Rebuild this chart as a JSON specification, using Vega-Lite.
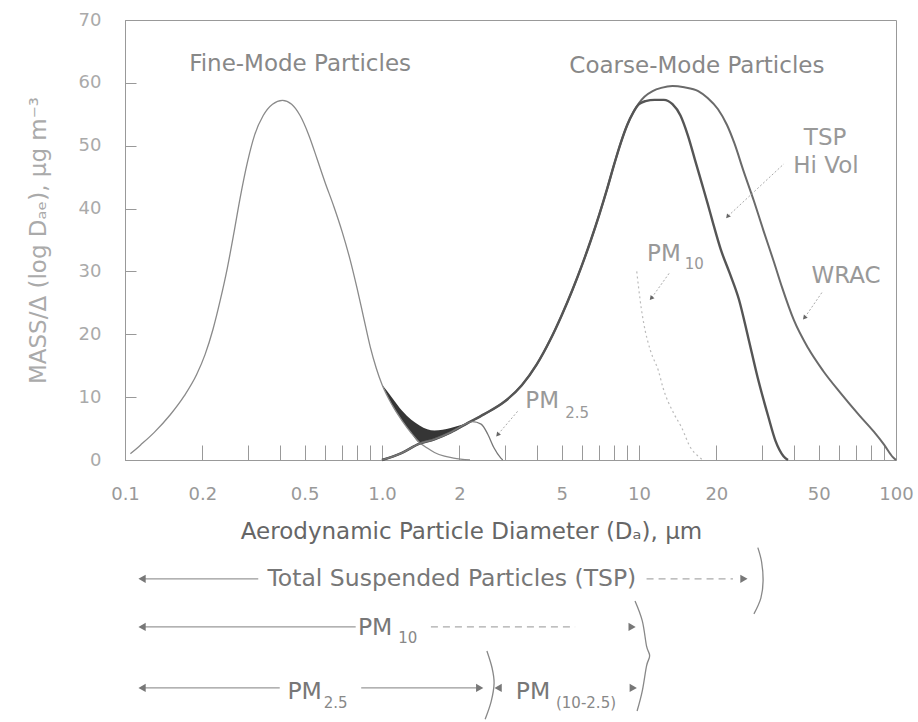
{
  "$schema": "https://vega.github.io/schema/vega-lite/v6.json",
  "background": "white",
  "padding": {"left": 26, "top": 10, "right": 0, "bottom": 0},
  "bounds": "flush",
  "spacing": 90,
  "config": {"view": {"stroke": null}, "font": "DejaVu Sans", "axis": {"grid": false}},
  "datasets": {
    "fine": [
      {"x": 0.105, "y": 1.0}, {"x": 0.115, "y": 2.4}, {"x": 0.13, "y": 4.4}, {"x": 0.15, "y": 7.2},
      {"x": 0.17, "y": 10.2}, {"x": 0.19, "y": 13.6}, {"x": 0.205, "y": 16.8}, {"x": 0.22, "y": 20.8},
      {"x": 0.235, "y": 25.5}, {"x": 0.25, "y": 30.5}, {"x": 0.265, "y": 36}, {"x": 0.28, "y": 41.5},
      {"x": 0.3, "y": 47.5}, {"x": 0.32, "y": 51.8}, {"x": 0.345, "y": 54.8}, {"x": 0.375, "y": 56.6},
      {"x": 0.41, "y": 57.2}, {"x": 0.445, "y": 56.6}, {"x": 0.48, "y": 54.8}, {"x": 0.52, "y": 51.6},
      {"x": 0.56, "y": 47.8}, {"x": 0.6, "y": 44.2}, {"x": 0.65, "y": 40.3}, {"x": 0.7, "y": 36.3},
      {"x": 0.75, "y": 32.0}, {"x": 0.8, "y": 27.3}, {"x": 0.85, "y": 22.5}, {"x": 0.9, "y": 18.0},
      {"x": 0.95, "y": 14.6}, {"x": 1.0, "y": 12.0}, {"x": 1.1, "y": 8.6}, {"x": 1.2, "y": 6.2},
      {"x": 1.3, "y": 4.3}, {"x": 1.4, "y": 2.8}, {"x": 1.5, "y": 1.9}, {"x": 1.6, "y": 1.2},
      {"x": 1.75, "y": 0.6}, {"x": 1.9, "y": 0.3}, {"x": 2.2, "y": 0}
    ],
    "coarse": [
      {"x": 1.0, "y": 0}, {"x": 1.19, "y": 1.1}, {"x": 1.4, "y": 2.6}, {"x": 1.6, "y": 3.3},
      {"x": 1.85, "y": 4.4}, {"x": 2.16, "y": 5.9}, {"x": 2.5, "y": 7.3}, {"x": 3.0, "y": 9.3},
      {"x": 3.5, "y": 11.9}, {"x": 4.0, "y": 15.2}, {"x": 4.5, "y": 19.0}, {"x": 5.0, "y": 23.0},
      {"x": 5.5, "y": 27.0}, {"x": 6.0, "y": 31.0}, {"x": 6.5, "y": 35.0}, {"x": 7.0, "y": 39.0},
      {"x": 7.5, "y": 43.0}, {"x": 8.0, "y": 47.0}, {"x": 8.5, "y": 50.5}, {"x": 9.0, "y": 53.3},
      {"x": 9.5, "y": 55.3}, {"x": 10.0, "y": 56.8}, {"x": 10.5, "y": 57.8}, {"x": 11.3, "y": 58.7},
      {"x": 12.2, "y": 59.2}, {"x": 13.5, "y": 59.5}, {"x": 15.0, "y": 59.3}, {"x": 17.0, "y": 58.7},
      {"x": 18.5, "y": 57.6}, {"x": 20.3, "y": 55.8}, {"x": 22.0, "y": 53.3}, {"x": 23.5, "y": 50.4},
      {"x": 25.5, "y": 46}, {"x": 28.0, "y": 41.2}, {"x": 30.5, "y": 36.5}, {"x": 33.5, "y": 31.5},
      {"x": 36, "y": 27.5}, {"x": 40.1, "y": 22.2}, {"x": 45.5, "y": 17.8}, {"x": 52, "y": 14.2},
      {"x": 61, "y": 10.6}, {"x": 72, "y": 7.1}, {"x": 82, "y": 4.5}, {"x": 90, "y": 2.4},
      {"x": 97, "y": 0.5}, {"x": 100, "y": 0}
    ],
    "tsp": [
      {"x": 1.0, "y": 0}, {"x": 1.19, "y": 1.1}, {"x": 1.4, "y": 2.6}, {"x": 1.6, "y": 3.3},
      {"x": 1.85, "y": 4.4}, {"x": 2.16, "y": 5.9}, {"x": 2.5, "y": 7.3}, {"x": 3.0, "y": 9.3},
      {"x": 3.5, "y": 11.9}, {"x": 4.0, "y": 15.2}, {"x": 4.5, "y": 19.0}, {"x": 5.0, "y": 23.0},
      {"x": 5.5, "y": 27.0}, {"x": 6.0, "y": 31.0}, {"x": 6.5, "y": 35.0}, {"x": 7.0, "y": 39.0},
      {"x": 7.5, "y": 43.0}, {"x": 8.0, "y": 47.0}, {"x": 8.5, "y": 50.5}, {"x": 9.0, "y": 53.3},
      {"x": 9.5, "y": 55.3}, {"x": 10.0, "y": 56.6}, {"x": 10.6, "y": 57.1}, {"x": 11.5, "y": 57.3},
      {"x": 12.5, "y": 57.3}, {"x": 13.5, "y": 56.6}, {"x": 14.5, "y": 54.8}, {"x": 15.5, "y": 51.6},
      {"x": 16.5, "y": 47.8}, {"x": 17.5, "y": 44.2}, {"x": 18.5, "y": 40.8}, {"x": 19.5, "y": 37.4},
      {"x": 20.8, "y": 33.5}, {"x": 22.5, "y": 29.8}, {"x": 24.5, "y": 25.5}, {"x": 26.6, "y": 19.5},
      {"x": 29, "y": 13}, {"x": 31.8, "y": 7}, {"x": 34, "y": 3}, {"x": 36.5, "y": 0.6}, {"x": 38, "y": 0}
    ],
    "pm25": [
      {"x": 1.0, "y": 0}, {"x": 1.19, "y": 1.1}, {"x": 1.4, "y": 2.6}, {"x": 1.6, "y": 3.3},
      {"x": 1.85, "y": 4.4}, {"x": 2.16, "y": 5.9}, {"x": 2.25, "y": 6.1}, {"x": 2.43, "y": 5.7},
      {"x": 2.58, "y": 4.1}, {"x": 2.73, "y": 1.9}, {"x": 2.9, "y": 0.3}, {"x": 2.95, "y": 0}
    ],
    "pm10": [
      {"x": 9.8, "y": 30}, {"x": 10.2, "y": 24.2},
      {"x": 10.45, "y": 21.6}, {"x": 11.1, "y": 17.3}, {"x": 11.9, "y": 14.2}, {"x": 12.4, "y": 11.5},
      {"x": 13.7, "y": 7.3}, {"x": 14.6, "y": 5.3}, {"x": 15.9, "y": 1.9}, {"x": 17.0, "y": 0.6}, {"x": 17.7, "y": 0}
    ],
    "overlap": [
      {"x": 1.0, "y": 12.0, "y2": 12.0}, {"x": 1.05, "y": 10.9, "y2": 10.2}, {"x": 1.1, "y": 9.8, "y2": 8.6},
      {"x": 1.2, "y": 7.8, "y2": 6.2}, {"x": 1.3, "y": 6.4, "y2": 4.3}, {"x": 1.4, "y": 5.5, "y2": 2.8},
      {"x": 1.5, "y": 4.9, "y2": 2.95}, {"x": 1.6, "y": 4.7, "y2": 3.3}, {"x": 1.72, "y": 4.8, "y2": 3.8},
      {"x": 1.85, "y": 5.1, "y2": 4.4}, {"x": 2.0, "y": 5.5, "y2": 5.1}, {"x": 2.16, "y": 5.9, "y2": 5.9}
    ],
    "arrows": [
      {"id": "hv", "x": 36.6, "y": 47.1}, {"id": "hv", "x": 22.2, "y": 38.8},
      {"id": "wr", "x": 52, "y": 26.9}, {"id": "wr", "x": 44.2, "y": 22.7},
      {"id": "p10", "x": 13.1, "y": 29.7}, {"id": "p10", "x": 11.2, "y": 25.8},
      {"id": "p25", "x": 3.38, "y": 7.8}, {"id": "p25", "x": 2.83, "y": 4.1}
    ],
    "heads": [
      {"x": 22.2, "y": 38.8}, {"x": 44.2, "y": 22.7}, {"x": 11.2, "y": 25.8}, {"x": 2.83, "y": 4.1}
    ],
    "bigLabels": [
      {"t": "Fine-Mode Particles", "x": 0.48, "y": 63.0},
      {"t": "Coarse-Mode Particles", "x": 16.8, "y": 62.7}
    ],
    "midLabels": [
      {"t": "TSP", "x": 53, "y": 51.2}, {"t": "Hi Vol", "x": 53.4, "y": 46.8},
      {"t": "WRAC", "x": 63.9, "y": 29.3}, {"t": "PM", "x": 12.5, "y": 32.7}, {"t": "PM", "x": 4.2, "y": 9.4}
    ],
    "subLabels": [
      {"t": "10", "x": 16.4, "y": 31.2}, {"t": "2.5", "x": 5.75, "y": 7.5}
    ],
    "bSolid": [
      {"x": 0.1165, "x2": 0.33, "y": 3}, {"x": 0.1165, "x2": 0.79, "y": 2},
      {"x": 0.1165, "x2": 0.40, "y": 0.73}, {"x": 0.83, "x2": 2.35, "y": 0.73}
    ],
    "bDashed": [
      {"x": 10.7, "x2": 23.2, "y": 3}, {"x": 1.55, "x2": 5.64, "y": 2}
    ],
    "bLeft": [
      {"x": 0.1165, "y": 3}, {"x": 0.1165, "y": 2}, {"x": 0.1165, "y": 0.73}, {"x": 2.83, "y": 0.73}
    ],
    "bRight": [
      {"x": 25.6, "y": 3}, {"x": 9.4, "y": 2}, {"x": 2.40, "y": 0.73}, {"x": 9.5, "y": 0.73}
    ],
    "bText": [
      {"t": "Total Suspended Particles (TSP)", "x": 1.87, "y": 3},
      {"t": "PM", "x": 0.94, "y": 1.98}, {"t": "PM", "x": 0.50, "y": 0.65}, {"t": "PM", "x": 3.87, "y": 0.65}
    ],
    "bSub": [
      {"t": "10", "x": 1.26, "y": 1.76}, {"t": "2.5", "x": 0.66, "y": 0.42}, {"t": "(10-2.5)", "x": 6.22, "y": 0.42}
    ],
    "braces": [
      {"id": "a", "k": 1, "x": 29.0, "y": 3.65}, {"id": "a", "k": 2, "x": 30.0, "y": 3.35},
      {"id": "a", "k": 3, "x": 30.4, "y": 2.96}, {"id": "a", "k": 4, "x": 29.8, "y": 2.6},
      {"id": "a", "k": 5, "x": 28.0, "y": 2.27},
      {"id": "b", "k": 1, "x": 9.65, "y": 2.54}, {"id": "b", "k": 2, "x": 10.3, "y": 2.125},
      {"id": "b", "k": 3, "x": 10.7, "y": 1.6}, {"id": "b", "k": 4, "x": 11.0, "y": 1.4},
      {"id": "b", "k": 5, "x": 10.7, "y": 1.19}, {"id": "b", "k": 6, "x": 10.3, "y": 0.67},
      {"id": "b", "k": 7, "x": 9.83, "y": 0.25},
      {"id": "c", "k": 1, "x": 2.56, "y": 1.5}, {"id": "c", "k": 2, "x": 2.68, "y": 1.15},
      {"id": "c", "k": 3, "x": 2.73, "y": 0.83}, {"id": "c", "k": 4, "x": 2.66, "y": 0.45},
      {"id": "c", "k": 5, "x": 2.52, "y": 0.08}
    ]
  },
  "vconcat": [
    {
      "width": 771,
      "height": 440,
      "view": {"stroke": "#999", "strokeWidth": 1},
      "encoding": {
        "x": {
          "field": "x", "type": "quantitative",
          "scale": {"type": "log", "domain": [0.1, 100], "nice": false},
          "axis": {
            "title": "Aerodynamic Particle Diameter (Dₐ), µm",
            "values": [0.1, 0.2, 0.3, 0.4, 0.5, 0.6, 0.7, 0.8, 0.9, 1, 2, 3, 4, 5, 6, 7, 8, 9, 10, 20, 30, 40, 50, 60, 70, 80, 90, 100],
            "labelExpr": "datum.value == 1 ? '1.0' : (indexof([0.1, 0.2, 0.5, 2, 5, 10, 20, 50, 100], datum.value) >= 0 ? toString(datum.value) : '')",
            "tickSize": -15, "tickColor": "#999", "domainColor": "#999",
            "labelPadding": 40, "labelFont": "DejaVu Sans", "labelFontSize": 18, "labelColor": "#999",
            "labelFlush": false, "labelOverlap": false, "labelBound": false,
            "titleFont": "DejaVu Sans", "titleFontSize": 23, "titleFontWeight": "normal", "titleColor": "#666", "titlePadding": 17,
            "titleX": 346, "titleAlign": "center"
          }
        },
        "y": {
          "field": "y", "type": "quantitative",
          "scale": {"domain": [0, 70], "nice": false},
          "axis": {
            "title": "MASS/Δ (log Dₐₑ), µg m⁻³",
            "values": [0, 10, 20, 30, 40, 50, 60, 70],
            "tickSize": -11, "tickColor": "#999", "domainColor": "#999",
            "labelPadding": 35, "labelFont": "DejaVu Sans", "labelFontSize": 18, "labelColor": "#aaa",
            "titleFont": "DejaVu Sans", "titleFontSize": 23, "titleFontWeight": "normal", "titleColor": "#aaa", "titlePadding": 28
          }
        }
      },
      "layer": [
        {"data": {"name": "overlap"}, "mark": {"type": "area", "color": "#2a2a2a", "interpolate": "monotone", "opacity": 0.95}, "encoding": {"y2": {"field": "y2"}}},
        {"data": {"name": "fine"}, "mark": {"type": "line", "color": "#8a8a8a", "strokeWidth": 1.3, "interpolate": "monotone"}},
        {"data": {"name": "coarse"}, "mark": {"type": "line", "color": "#6a6a6a", "strokeWidth": 2, "interpolate": "monotone"}},
        {"data": {"name": "tsp"}, "mark": {"type": "line", "color": "#555", "strokeWidth": 2.4, "interpolate": "monotone"}},
        {"data": {"name": "pm25"}, "mark": {"type": "line", "color": "#777", "strokeWidth": 1.3, "interpolate": "monotone"}},
        {"data": {"name": "pm10"}, "mark": {"type": "line", "color": "#bbb", "strokeWidth": 1.2, "strokeDash": [2, 3], "interpolate": "monotone"}},
        {"data": {"name": "arrows"}, "mark": {"type": "line", "color": "#aaa", "strokeWidth": 1, "strokeDash": [2, 2]}, "encoding": {"detail": {"field": "id"}}},
        {"data": {"name": "heads"}, "mark": {"type": "point", "shape": "triangle", "angle": 220, "filled": true, "color": "#666", "size": 25, "opacity": 1}},
        {"data": {"name": "bigLabels"}, "mark": {"type": "text", "fontSize": 23, "color": "#888", "font": "DejaVu Sans"}, "encoding": {"text": {"field": "t"}}},
        {"data": {"name": "midLabels"}, "mark": {"type": "text", "fontSize": 23, "color": "#999", "font": "DejaVu Sans"}, "encoding": {"text": {"field": "t"}}},
        {"data": {"name": "subLabels"}, "mark": {"type": "text", "fontSize": 15, "color": "#999", "font": "DejaVu Sans"}, "encoding": {"text": {"field": "t"}}}
      ]
    },
    {
      "width": 771,
      "height": 173,
      "view": {"stroke": null},
      "encoding": {
        "x": {"field": "x", "type": "quantitative", "scale": {"type": "log", "domain": [0.1, 100], "nice": false}, "axis": null},
        "y": {"field": "y", "type": "quantitative", "scale": {"domain": [0, 3.6], "nice": false, "zero": false}, "axis": null}
      },
      "layer": [
        {"data": {"name": "bSolid"}, "mark": {"type": "rule", "color": "#999", "strokeWidth": 1.2}, "encoding": {"x2": {"field": "x2"}}},
        {"data": {"name": "bDashed"}, "mark": {"type": "rule", "color": "#aaa", "strokeWidth": 1.2, "strokeDash": [7, 5]}, "encoding": {"x2": {"field": "x2"}}},
        {"data": {"name": "bLeft"}, "mark": {"type": "point", "shape": "triangle-left", "filled": true, "color": "#777", "size": 70, "opacity": 1}},
        {"data": {"name": "bRight"}, "mark": {"type": "point", "shape": "triangle-right", "filled": true, "color": "#777", "size": 70, "opacity": 1}},
        {"data": {"name": "braces"}, "mark": {"type": "line", "color": "#888", "strokeWidth": 1.3, "interpolate": "cardinal"}, "encoding": {"detail": {"field": "id"}, "order": {"field": "k"}}},
        {"data": {"name": "bText"}, "mark": {"type": "text", "fontSize": 23.5, "color": "#777", "font": "DejaVu Sans"}, "encoding": {"text": {"field": "t"}}},
        {"data": {"name": "bSub"}, "mark": {"type": "text", "fontSize": 15, "color": "#888", "font": "DejaVu Sans"}, "encoding": {"text": {"field": "t"}}}
      ]
    }
  ]
}
